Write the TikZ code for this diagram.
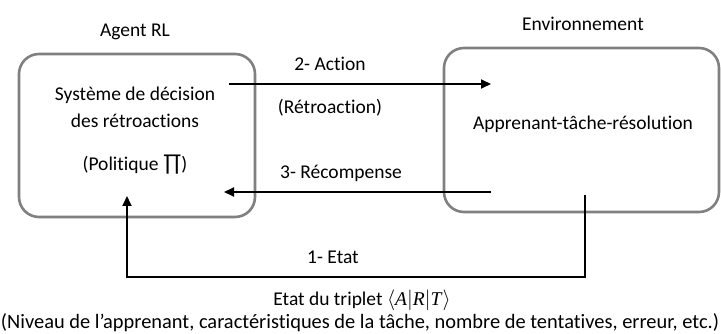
\documentclass[tikz,border=0pt]{standalone}
\usepackage{fontspec}
\setmainfont[Ligatures=NoCommon]{Carlito}
\newfontfamily\mathlike{Liberation Serif}
\usetikzlibrary{arrows.meta}
\tikzset{
  panel/.style={draw=black!50, line width=2.6pt, rounded corners=20pt},
  flow/.style={line width=1.8pt, -{Triangle[length=10pt,width=9pt]}},
  lbl/.style={inner sep=0pt, font=\fontsize{19.5}{23}\selectfont},
}
\begin{document}
\begin{tikzpicture}[x=1pt, y=-1pt]
\useasboundingbox (0,0) rectangle (721,334);
% the two boxes
\draw[panel] (19,54) rectangle (255,217);
\draw[panel] (444,48) rectangle (719,212);
\node[lbl] (agent) at (135,32) {Agent RL};
\node[lbl] (env) at (583,24) {Environnement};
% contents of the agent box
\node[lbl] (sys1) at (135,95) {Système de décision};
\node[lbl] (sys2) at (135,121) {des rétroactions};
\node[lbl] (pol) at (135,165) {(Politique \raisebox{-0.5pt}{\fontsize{23}{23}\selectfont\symbol{"220F}})};
% contents of the environment box
\node[lbl] (app) at (583,124) {Apprenant-tâche-résolution};
% action / reward arrows
\coordinate (actA) at (229,84);
\coordinate (actB) at (491,84);
\coordinate (recA) at (491,192);
\coordinate (recB) at (224,192);
\draw[flow] (actA) -- (actB);
\draw[flow] (recA) -- (recB);
\node[lbl] (act) at (330,64) {2- Action};
\node[lbl] (retro) at (330,108) {(Rétroaction)};
\node[lbl] (rec) at (341,173) {3- Récompense};
% state feedback loop
\coordinate (stA) at (585,195);
\coordinate (stC) at (127,196);
\draw[flow] (stA) -- (585,277) -- (127,277) -- (stC);
\node[lbl] (etat) at (333,257) {1- Etat};
\node[lbl] (trip) at (362,300) {Etat du triplet {\mathlike$\langle$\textit{A}$|$\textit{R}$|$\textit{T}$\rangle$}};
\node[lbl] (desc) at (360,323) {\resizebox{718pt}{!}{\fontsize{20}{23}\selectfont(Niveau de l’apprenant, caractéristiques de la tâche, nombre de tentatives, erreur, etc.)}};
\end{tikzpicture}
\end{document}
